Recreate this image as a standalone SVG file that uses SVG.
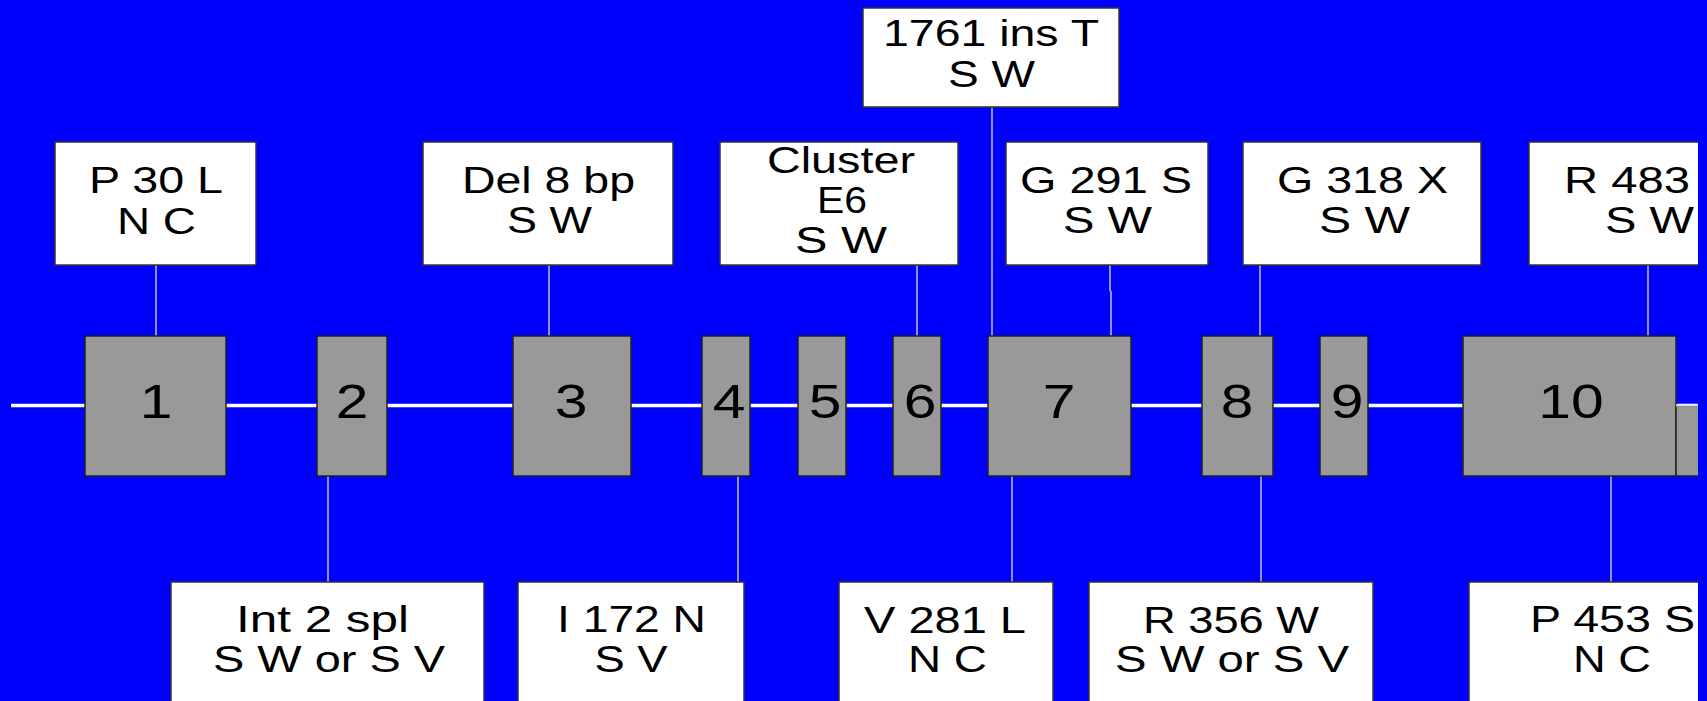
<svg xmlns="http://www.w3.org/2000/svg" width="1707" height="701" viewBox="0 0 1707 701">
<defs>
<style>
.box{fill:#ffffff;stroke:#333333;stroke-width:1.5}
.exon{fill:#999999;stroke:#222222;stroke-width:1.5}
.lbl{font-family:"Liberation Sans",Arial,Helvetica,sans-serif;font-size:36px;fill:#000000;text-anchor:middle}
.num{font-family:"Liberation Sans",Arial,Helvetica,sans-serif;font-size:49px;fill:#000000;text-anchor:middle}
.conn{stroke:#c4c4c4;stroke-width:1.5;fill:none}
.backbone{stroke:#ffffff;stroke-width:3.5;fill:none}
</style>
<clipPath id="cut"><rect x="0" y="0" width="1698" height="701"/></clipPath>
</defs>
<rect x="0" y="0" width="1707" height="701" fill="#0000ff"/>

<g id="connectors">
<line class="backbone" x1="11" y1="405.5" x2="1698" y2="405.5"/>
<line class="conn" x1="156" y1="265" x2="156" y2="336"/>
<line class="conn" x1="549" y1="265" x2="549" y2="336"/>
<line class="conn" x1="917" y1="265" x2="917" y2="336"/>
<line class="conn" x1="992" y1="107" x2="992" y2="336"/>
<polyline class="conn" points="1110,265 1110,290 1111,292 1111,336"/>
<line class="conn" x1="1260" y1="265" x2="1260" y2="336"/>
<line class="conn" x1="1648" y1="265" x2="1648" y2="336"/>
<line class="conn" x1="328" y1="476" x2="328" y2="582"/>
<line class="conn" x1="738" y1="476" x2="738" y2="582"/>
<line class="conn" x1="1012" y1="476" x2="1012" y2="582"/>
<line class="conn" x1="1261" y1="476" x2="1261" y2="582"/>
<line class="conn" x1="1611" y1="476" x2="1611" y2="582"/>
</g>

<g id="exon1"><rect class="exon" x="85" y="336" width="141" height="140"/><text class="num" transform="translate(156,418) scale(1.2,1)">1</text></g>
<g id="exon2"><rect class="exon" x="317" y="336" width="70" height="140"/><text class="num" transform="translate(352,418) scale(1.2,1)">2</text></g>
<g id="exon3"><rect class="exon" x="513" y="336" width="118" height="140"/><text class="num" transform="translate(571,418) scale(1.2,1)">3</text></g>
<g id="exon4"><rect class="exon" x="702" y="336" width="48" height="140"/><text class="num" transform="translate(729,418) scale(1.2,1)">4</text></g>
<g id="exon5"><rect class="exon" x="798" y="336" width="48" height="140"/><text class="num" transform="translate(825,418) scale(1.2,1)">5</text></g>
<g id="exon6"><rect class="exon" x="893" y="336" width="48" height="140"/><text class="num" transform="translate(920,418) scale(1.2,1)">6</text></g>
<g id="exon7"><rect class="exon" x="988" y="336" width="143" height="140"/><text class="num" transform="translate(1059,418) scale(1.2,1)">7</text></g>
<g id="exon8"><rect class="exon" x="1202" y="336" width="71" height="140"/><text class="num" transform="translate(1237,418) scale(1.2,1)">8</text></g>
<g id="exon9"><rect class="exon" x="1320" y="336" width="48" height="140"/><text class="num" transform="translate(1347,418) scale(1.2,1)">9</text></g>
<g id="exon10" clip-path="url(#cut)"><rect class="exon" x="1463" y="336" width="213" height="140"/><text class="num" transform="translate(1571,418) scale(1.2,1)">10</text><rect class="exon" x="1676" y="406" width="40" height="70"/><line x1="1676" y1="405.5" x2="1698" y2="405.5" stroke="#e0e0e0" stroke-width="2"/></g>

<g id="p30l"><rect class="box" x="55" y="142" width="201" height="123"/>
<text class="lbl" x="156" y="193" textLength="134" lengthAdjust="spacingAndGlyphs">P 30 L</text>
<text class="lbl" x="156.5" y="234" textLength="79" lengthAdjust="spacingAndGlyphs">N C</text></g>

<g id="del8bp"><rect class="box" x="423" y="142" width="250" height="123"/>
<text class="lbl" x="548.5" y="193" textLength="173" lengthAdjust="spacingAndGlyphs">Del 8 bp</text>
<text class="lbl" x="549.5" y="233" textLength="85" lengthAdjust="spacingAndGlyphs">S W</text></g>

<g id="cluster"><rect class="box" x="720" y="142" width="238" height="123"/>
<text class="lbl" x="841" y="173" textLength="148" lengthAdjust="spacingAndGlyphs">Cluster</text>
<text class="lbl" x="842" y="213" textLength="50" lengthAdjust="spacingAndGlyphs">E6</text>
<text class="lbl" x="841" y="253" textLength="92" lengthAdjust="spacingAndGlyphs">S W</text></g>

<g id="ins1761"><rect class="box" x="863" y="8" width="256" height="99"/>
<text class="lbl" x="991" y="46" textLength="216" lengthAdjust="spacingAndGlyphs">1761 ins T</text>
<text class="lbl" x="991.5" y="87" textLength="87" lengthAdjust="spacingAndGlyphs">S W</text></g>

<g id="g291s"><rect class="box" x="1006" y="142" width="202" height="123"/>
<text class="lbl" x="1106" y="193" textLength="172" lengthAdjust="spacingAndGlyphs">G 291 S</text>
<text class="lbl" x="1107.5" y="233" textLength="89" lengthAdjust="spacingAndGlyphs">S W</text></g>

<g id="g318x"><rect class="box" x="1243" y="142" width="238" height="123"/>
<text class="lbl" x="1362.5" y="193" textLength="171" lengthAdjust="spacingAndGlyphs">G 318 X</text>
<text class="lbl" x="1364.5" y="233" textLength="91" lengthAdjust="spacingAndGlyphs">S W</text></g>

<g id="r483" clip-path="url(#cut)"><rect class="box" x="1529" y="142" width="242" height="123"/>
<text class="lbl" x="1564" y="193" style="text-anchor:start" textLength="126" lengthAdjust="spacingAndGlyphs">R 483</text>
<text class="lbl" x="1649.5" y="233" textLength="89" lengthAdjust="spacingAndGlyphs">S W</text></g>

<g id="int2spl"><rect class="box" x="171" y="582" width="313" height="140"/>
<text class="lbl" x="322.5" y="632" textLength="173" lengthAdjust="spacingAndGlyphs">Int 2 spl</text>
<text class="lbl" x="329" y="672" textLength="232" lengthAdjust="spacingAndGlyphs">S W or S V</text></g>

<g id="i172n"><rect class="box" x="518" y="582" width="226" height="140"/>
<text class="lbl" x="631.5" y="632" textLength="149" lengthAdjust="spacingAndGlyphs">I 172 N</text>
<text class="lbl" x="631" y="672" textLength="73" lengthAdjust="spacingAndGlyphs">S V</text></g>

<g id="v281l"><rect class="box" x="839" y="582" width="214" height="140"/>
<text class="lbl" x="945" y="633" textLength="162" lengthAdjust="spacingAndGlyphs">V 281 L</text>
<text class="lbl" x="947.5" y="672" textLength="79" lengthAdjust="spacingAndGlyphs">N C</text></g>

<g id="r356w"><rect class="box" x="1089" y="582" width="284" height="140"/>
<text class="lbl" x="1231" y="633" textLength="176" lengthAdjust="spacingAndGlyphs">R 356 W</text>
<text class="lbl" x="1232" y="672" textLength="234" lengthAdjust="spacingAndGlyphs">S W or S V</text></g>

<g id="p453s" clip-path="url(#cut)"><rect class="box" x="1469" y="582" width="290" height="140"/>
<text class="lbl" x="1612.5" y="632" textLength="165" lengthAdjust="spacingAndGlyphs">P 453 S</text>
<text class="lbl" x="1612" y="672" textLength="78" lengthAdjust="spacingAndGlyphs">N C</text></g>
</svg>
